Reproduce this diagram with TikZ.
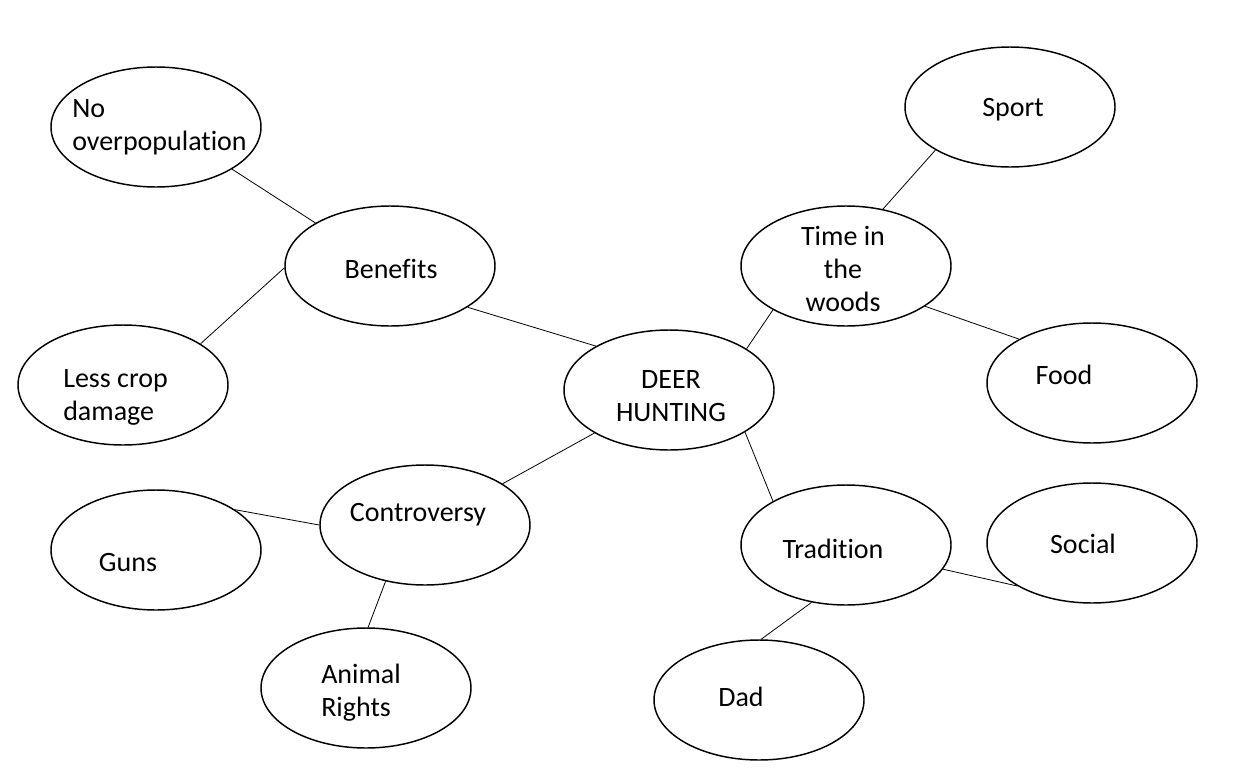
\documentclass[tikz,border=0pt]{standalone}
\usepackage{fontspec}
\setmainfont{Carlito}[Ligatures=CommonOff]
\tikzset{
  bubble/.style={ellipse, draw, line width=1.1pt, minimum width=157.5pt, minimum height=90pt, inner sep=0pt},
  word/.style={inner sep=0pt, font=\fontsize{21}{24.75}\selectfont},
  conn/.style={line width=0.6pt}
}
\usetikzlibrary{shapes.geometric}
\begin{document}
\begin{tikzpicture}[x=0.75pt, y=-0.75pt]
            \useasboundingbox (0,0) rectangle (1250,768);
            % Bubbles
            \node[bubble] (deer) at (669,390) {};
            \node[bubble] (benefits) at (390,266) {};
            \node[bubble] (overpop) at (156,127) {};
            \node[bubble] (crop) at (123,385) {};
            \node[bubble] (woods) at (846,266) {};
            \node[bubble] (sport) at (1010,107) {};
            \node[bubble] (food) at (1092,383) {};
            \node[bubble] (contro) at (425,525) {};
            \node[bubble] (guns) at (156,550) {};
            \node[bubble] (animal) at (366,688) {};
            \node[bubble] (tradition) at (846,545) {};
            \node[bubble] (social) at (1092,543) {};
            \node[bubble] (dad) at (759,700) {};
            % Texts
            \node[word, align=center] (deer-t) at (671,396) {DEER\\HUNTING};
            \node[word] (benefits-t) at (391,269) {Benefits};
            \node[word, align=left, anchor=west] (overpop-t) at (72,127) {No\\overpopulation};
            \node[word, align=left, anchor=west] (crop-t) at (63,397) {Less crop\\damage};
            \node[word, align=center] (woods-t) at (843,269) {Time in\\the\\woods};
            \node[word] (sport-t) at (1013,110) {Sport};
            \node[word] (food-t) at (1064,375) {Food};
            \node[word] (contro-t) at (418,515) {Controversy};
            \node[word] (guns-t) at (128,563) {Guns};
            \node[word, align=left, anchor=west] (animal-t) at (321,693) {Animal\\Rights};
            \node[word] (tradition-t) at (833,549) {Tradition};
            \node[word] (social-t) at (1083,544) {Social};
            \node[word] (dad-t) at (741,697) {Dad};
            % Links
            \draw[conn] (overpop.-29.5) -- (benefits.150.8);
            \draw[conn] (benefits.181) -- (crop.28);
            \draw[conn] (benefits.-28) -- (deer.149.8);
            \draw[conn] (deer.28) -- (woods.211.6);
            \draw[conn] (woods.57.5) -- (sport.210.7);
            \draw[conn] (woods.-27) -- (food.149.7);
            \draw[conn] (deer.210.8) -- (contro.28.7);
            \draw[conn] (deer.-29) -- (tradition.149.5);
            \draw[conn] (contro.180) -- (guns.27.4);
            \draw[conn] (contro.235.6) -- (animal.88);
            \draw[conn] (tradition.-14) -- (social.210.8);
            \draw[conn] (tradition.239.6) -- (dad.88);
        \end{tikzpicture}
\end{document}
